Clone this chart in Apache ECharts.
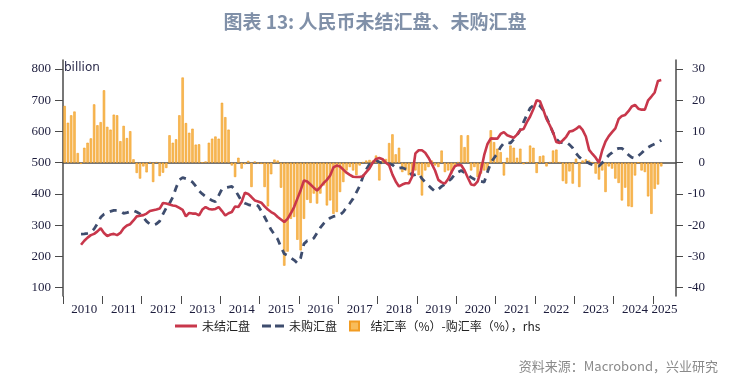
<!DOCTYPE html>
<html>
<head>
<meta charset="utf-8">
<script src="https://cdn.jsdelivr.net/npm/echarts@6/dist/echarts.min.js"></script>
<style>html,body{margin:0;padding:0;background:#fff;}#c{width:750px;height:384px;}</style>
</head>
<body>
<div id="c"></div>
<script>
// Monthly categories Jan 2010 .. Jul 2025
var startYear = 2010, monthCount = 187;
var months = [];
for (var k = 0; k < monthCount; k++) {
  var y = startYear + Math.floor(k / 12), m = (k % 12) + 1;
  months.push(y + '-' + (m < 10 ? '0' + m : m));
}
// year boundaries (in months from Jan 2010) for the tick marks
var yearTicks = [0, 12, 24, 36, 48, 60, 72, 84, 96, 108, 120, 132, 144, 156, 168, 180];
var leftTicks = [100, 200, 300, 400, 500, 600, 700, 800];
var rightTicks = [-40, -30, -20, -10, 0, 10, 20, 30];

// 结汇率(%)-购汇率(%), rhs : Jan 2010 .. Mar 2025
var rateDiff = [18.2,12.8,15.2,16.4,3.1,-0.4,4.8,6.4,7.8,18.7,12.0,13.0,
23.2,11.5,10.6,15.4,15.2,6.9,11.8,7.9,10.1,1.1,-3.3,-5.1,
-1.2,-3.1,0.2,-6.2,0.2,-4.3,-3.2,-1.7,8.8,6.4,7.5,15.2,
27.3,12.7,9.6,10.9,5.8,5.9,0.1,0.4,6.4,7.7,8.4,7.7,
19.2,14.6,10.6,-0.9,-4.6,1.6,-1.9,-0.5,0.6,-7.8,0.4,-0.3,
-0.4,-7.8,-14.0,-3.7,1.0,0.7,-8.0,-33.0,-28.5,-18.0,-17.4,-24.7,
-28.1,-18.0,-11.9,-12.9,-9.9,-13.1,-9.9,-7.3,-13.7,-12.1,-16.4,-15.8,
-9.4,-6.2,-2.5,-1.4,-2.5,-4.0,-0.9,0.2,0.7,0.9,0.7,2.3,
-5.7,0.7,1.2,6.3,9.1,2.7,4.8,-3.0,-2.5,-4.0,-3.5,-2.5,
-4.0,-10.5,-2.5,-1.4,0.7,-0.9,-1.4,3.9,-3.0,-2.5,-3.5,-1.4,
0.2,8.8,5.0,8.8,-2.5,-1.4,-4.6,-3.5,-2.5,-2.5,10.4,6.6,
4.5,3.4,-4.1,1.6,5.5,4.8,1.6,4.5,-0.5,0.2,5.5,4.8,
-3.3,2.1,2.3,-1.2,0.2,3.9,4.2,0.2,-5.9,-6.7,-2.8,-6.7,
1.3,-7.8,0.7,1.1,0.7,0.2,-3.5,-5.4,-2.5,-9.4,-1.2,-1.9,
-5.1,-6.5,-12.1,-8.0,-14.0,-14.2,-4.1,0.0,-2.5,-3.0,-10.8,-16.4,
-8.4,-7.0,-1.2];

// 未结汇盘 (billion): Jun 2010 .. Mar 2025
var lineStart = 5;
var unsettled = [237,250,260,268,272,280,290,
275,265,270,272,268,275,290,299,303,315,328,330,
332,337,345,348,350,353,371,369,366,363,361,355,
349,328,339,337,337,331,350,358,352,350,352,358,
345,331,338,342,360,358,375,404,400,390,379,376,
372,360,350,342,336,326,318,310,320,338,358,385,
412,443,440,430,420,411,422,435,445,459,485,491,
488,478,468,461,455,454,454,457,470,482,500,512,
515,511,500,492,462,440,424,430,434,434,455,530,
540,540,532,516,496,475,445,437,433,448,470,488,
493,492,475,452,430,428,440,475,525,560,578,577,
577,592,598,588,584,580,590,605,608,630,648,672,
700,697,670,640,620,597,566,563,572,583,600,602,
608,617,605,584,541,528,516,500,540,568,585,598,
610,640,650,653,665,680,685,673,670,670,700,712,
725,762,765];

// 未购汇盘 (billion): Jun 2010 .. Mar 2025
var unpurchased = [271,272,274,277,288,305,325,
335,340,344,347,347,345,338,340,343,347,342,336,
325,312,303,300,304,313,335,355,370,390,420,445,
452,449,445,438,425,410,400,392,385,379,375,395,
416,420,422,424,412,395,376,370,366,363,366,362,
345,326,306,285,270,255,230,208,203,195,188,178,
195,240,250,250,258,275,292,305,315,323,328,330,
333,342,357,370,385,405,425,455,478,495,503,507,
502,498,499,496,493,484,482,484,480,477,459,462,
465,449,438,427,417,408,415,424,431,440,449,462,
470,475,468,461,453,447,443,440,438,470,500,515,
530,550,563,565,563,575,588,605,630,653,675,683,
684,682,668,645,621,596,576,565,564,566,558,547,
530,518,509,503,498,494,491,489,500,512,524,532,
542,546,546,536,525,517,514,522,531,541,549,555,
560,565,572];

function pad(arr, start) {
  var out = [];
  for (var i = 0; i < start; i++) out.push('-');
  return out.concat(arr);
}

var axisFont = 'Liberation Serif';
var cjk = '"Noto Sans CJK SC", "Noto Sans", sans-serif';
var axisColor = '#4a4a4a';
var labelColor = '#1c1c3c';
var redColor = '#C8374B';
var navyColor = '#3E4D6E';

var chart = echarts.init(document.getElementById('c'), null, {renderer: 'canvas'});
chart.setOption({
  animation: false,
  backgroundColor: '#ffffff',
  title: {
    text: '图表 13: 人民币未结汇盘、未购汇盘',
    left: 'center',
    top: 7,
    textStyle: {fontFamily: cjk, fontSize: 19, fontWeight: 'bold', color: '#8090A8'}
  },
  grid: {left: 63, right: 74, top: 60, bottom: 88, containLabel: false},
  legend: {
    left: 170,
    top: 315,
    itemWidth: 22,
    itemHeight: 9,
    itemGap: 12,
    textStyle: {fontFamily: cjk, fontSize: 12, color: '#222'},
    data: [
      {name: '未结汇盘', icon: 'path://M0,0h22v3h-22z', itemStyle: {color: redColor}, lineStyle: {width: 0}},
      {name: '未购汇盘', icon: 'path://M0,0h9v3h-9z M13,0h9v3h-9z', itemStyle: {color: navyColor}, lineStyle: {width: 0}},
      {name: '结汇率（%）-购汇率（%），rhs', icon: 'path://M0,0h10v10h-10z'}
    ]
  },
  xAxis: [
    {
      type: 'category',
      data: months,
      boundaryGap: true,
      axisLine: {show: true, lineStyle: {color: axisColor, width: 1.5}},
      axisTick: {show: false},
      axisLabel: {
        interval: function (idx) { return (idx % 12 === 6 && idx < 180) || idx === 183; },
        formatter: function (v) { return v.slice(0, 4); },
        fontFamily: axisFont, fontSize: 13, color: labelColor, margin: 7
      },
      splitLine: {show: false}
    },
    {
      type: 'value',
      position: 'bottom',
      min: 0, max: monthCount,
      axisLine: {show: false},
      axisTick: {show: true, length: 8, customValues: yearTicks, lineStyle: {color: axisColor, width: 1}},
      axisLabel: {show: false},
      splitLine: {show: false}
    }
  ],
  yAxis: [
    {
      type: 'value', position: 'left',
      min: 73, max: 829,
      axisLine: {show: true, lineStyle: {color: axisColor, width: 1.5}},
      axisTick: {show: true, length: 8, customValues: leftTicks, lineStyle: {color: axisColor}},
      axisLabel: {customValues: leftTicks, fontFamily: axisFont, fontSize: 13, color: labelColor, margin: 12},
      splitLine: {show: false}
    },
    {
      type: 'value', position: 'right',
      min: -42.7, max: 32.9,
      axisLine: {show: true, lineStyle: {color: axisColor, width: 1.5}},
      axisTick: {show: true, length: 7, customValues: rightTicks, lineStyle: {color: axisColor}},
      axisLabel: {customValues: rightTicks, fontFamily: axisFont, fontSize: 13, color: labelColor, align: 'right', margin: 29},
      splitLine: {show: false}
    }
  ],
  graphic: [
    {type: 'text', left: 64, top: 62, style: {text: 'billion', fontFamily: 'DejaVu Sans', fontSize: 12, fill: '#2a2a4a'}},
    {type: 'text', right: 32, top: 360, style: {text: '资料来源：Macrobond，兴业研究', fontFamily: cjk, fontSize: 13, fill: '#8a8a8a'}}
  ],
  series: [
    {
      name: '结汇率（%）-购汇率（%），rhs',
      type: 'bar', xAxisIndex: 0, yAxisIndex: 1,
      data: rateDiff,
      barWidth: 2.4,
      itemStyle: {color: '#F8BC5A', borderColor: '#F29C22', borderWidth: 0.6},
      z: 1
    },
    {
      name: '未结汇盘',
      type: 'line', xAxisIndex: 0, yAxisIndex: 0,
      data: pad(unsettled, lineStart),
      symbol: 'none', smooth: false,
      lineStyle: {color: redColor, width: 2.6},
      itemStyle: {color: redColor},
      z: 3
    },
    {
      name: '未购汇盘',
      type: 'line', xAxisIndex: 0, yAxisIndex: 0,
      data: pad(unpurchased, lineStart),
      symbol: 'none', smooth: false,
      lineStyle: {color: navyColor, width: 2.8, type: [7, 6]},
      itemStyle: {color: navyColor},
      z: 2
    }
  ]
});
</script>
</body>
</html>
